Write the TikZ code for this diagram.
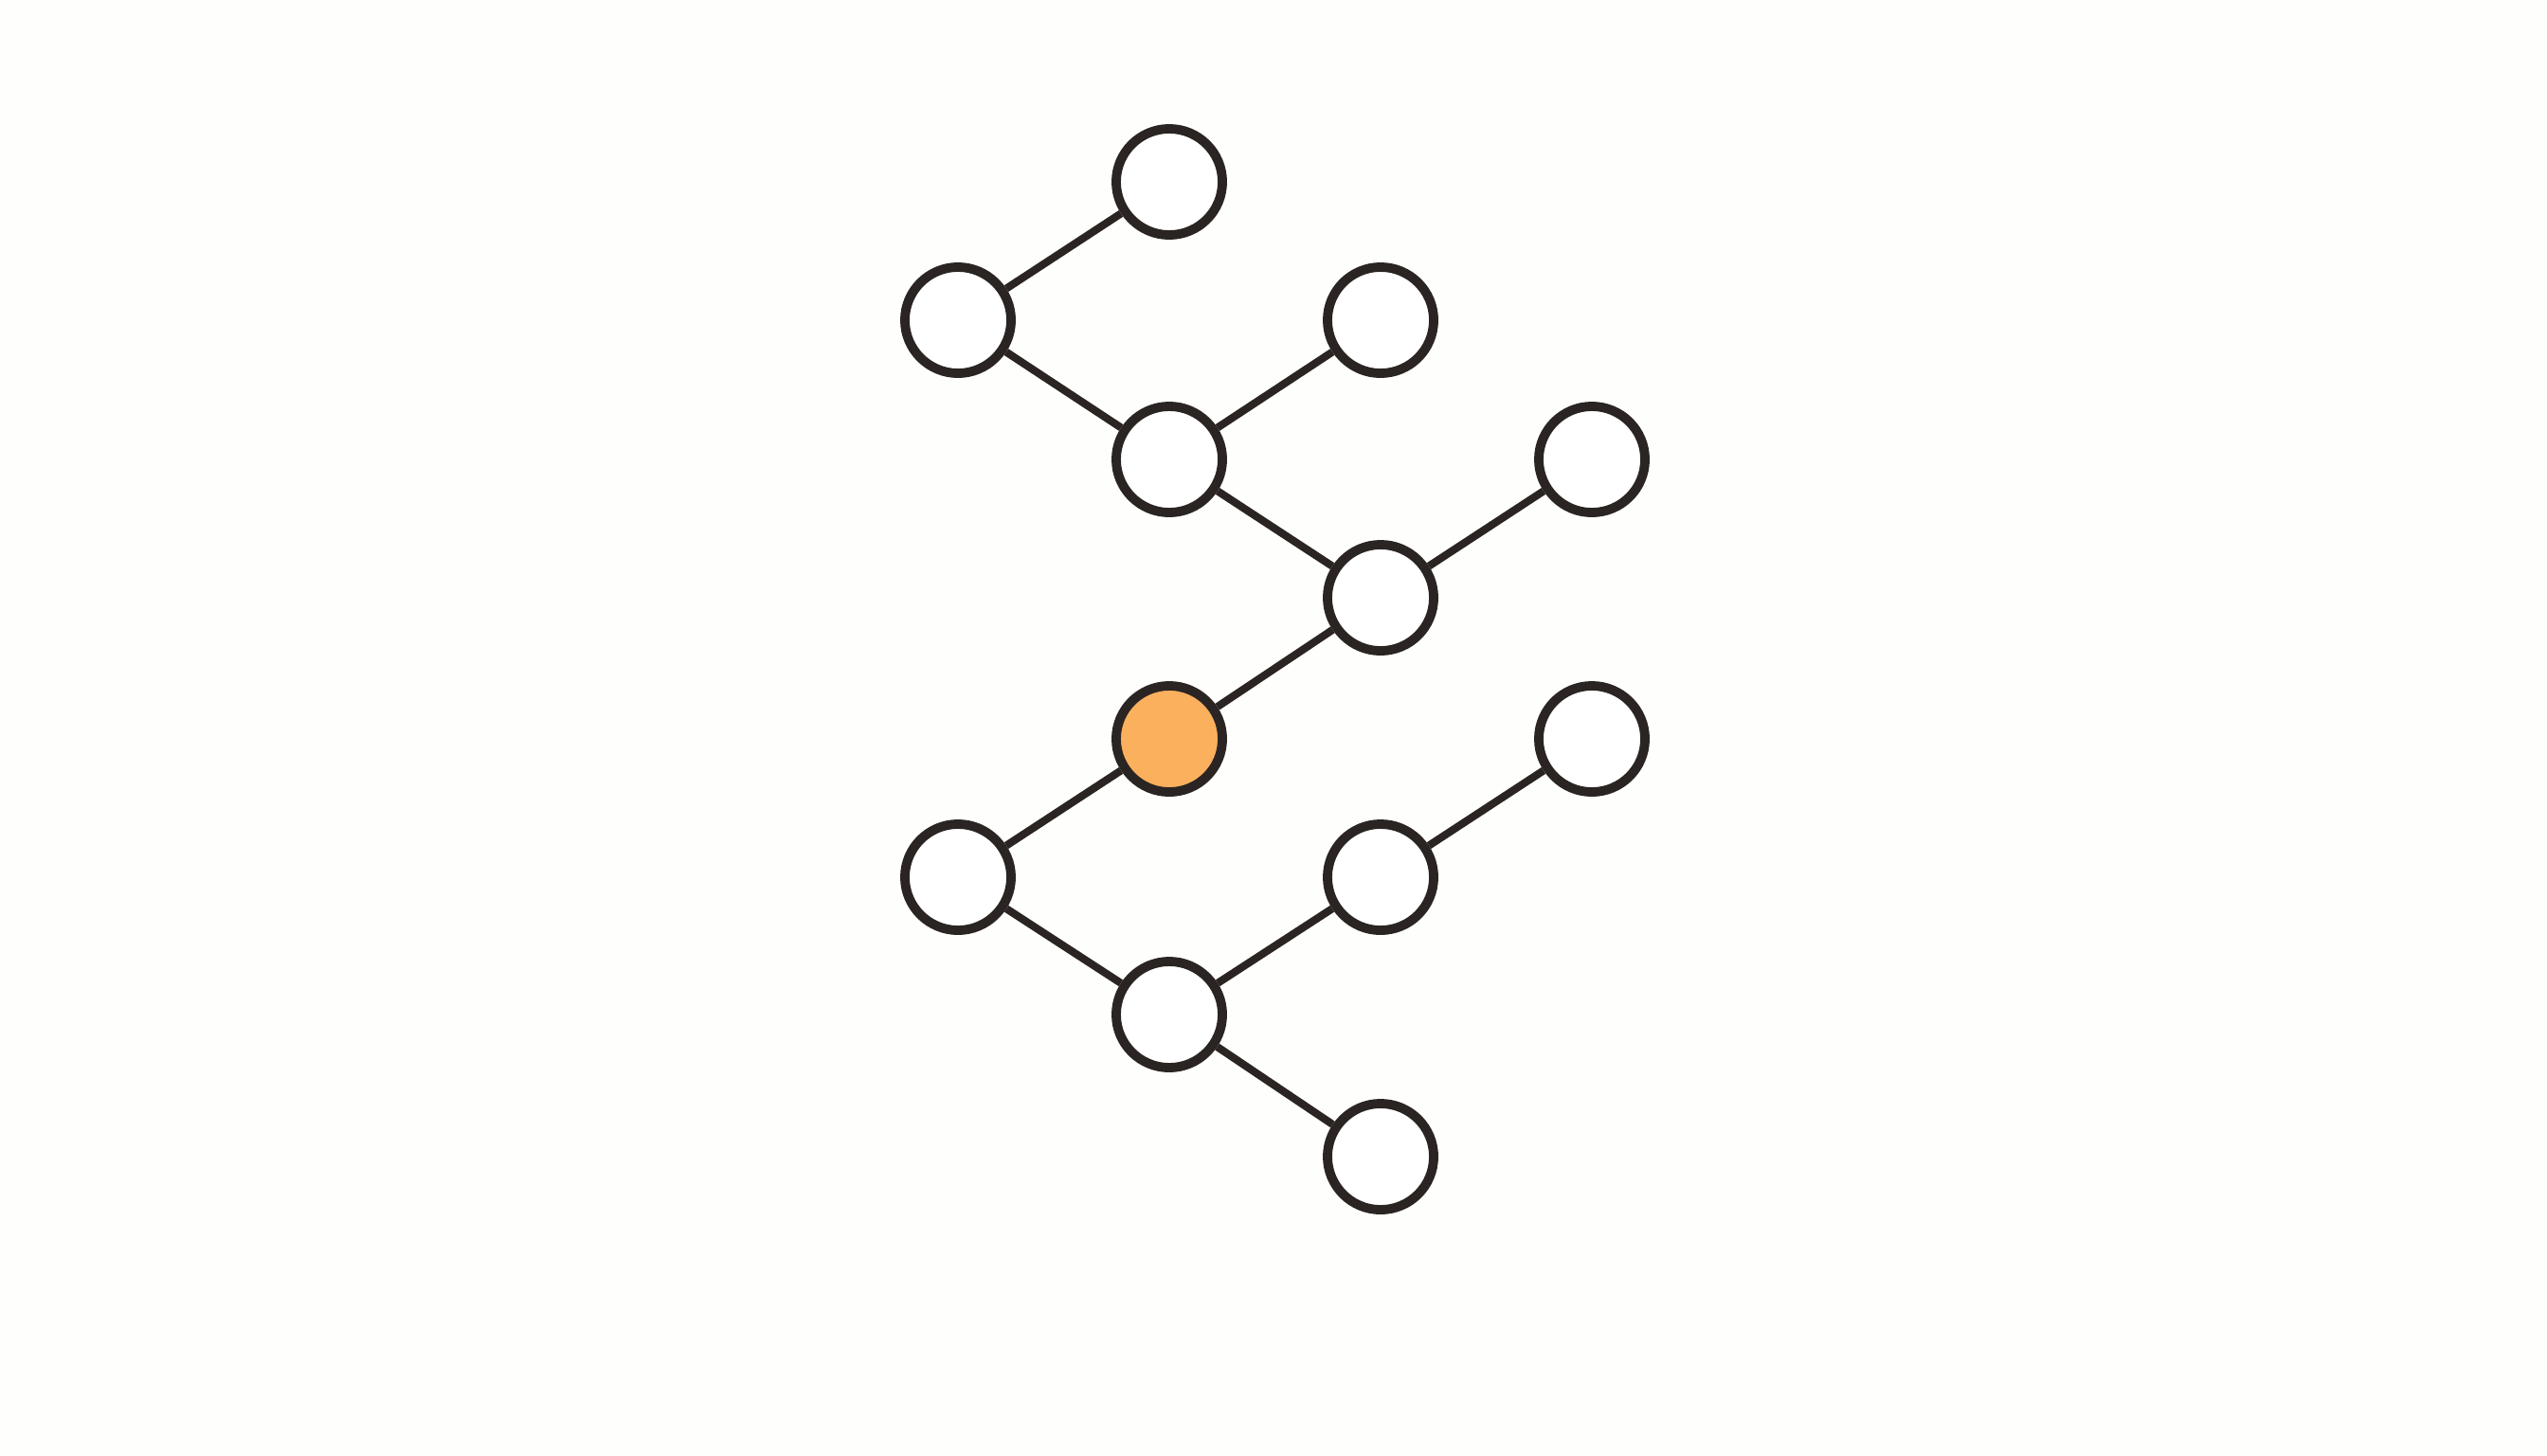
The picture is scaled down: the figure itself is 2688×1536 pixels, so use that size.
\documentclass[tikz,border=0pt]{standalone}
\usepackage{tikz}
\usepackage{xcolor}
\usetikzlibrary{positioning}
\definecolor{inkdark}{HTML}{2A2522}
\definecolor{leaforange}{HTML}{FBB05D}
\definecolor{paper}{HTML}{FEFEFC}

\begin{document}
\begin{tikzpicture}[x=0.01cm, y=-0.01cm,
        vert/.style={circle, draw=inkdark, line width=2.8pt, fill=white, minimum size=1.12cm, inner sep=0pt},
        hilite/.style={vert, fill=leaforange}]
                        \fill[paper] (0, 0) rectangle (2688, 1536);

                        \node[vert] (a) at (1234, 192) {};
                        \node[vert] (b) at (1011, 338) {};
                        \node[vert] (c) at (1457, 338) {};
                        \node[vert] (d) at (1234, 485) {};
                        \node[vert] (e) at (1680, 485) {};
                        \node[vert] (f) at (1457, 631) {};
                        \node[hilite] (g) at (1234, 780) {};
                        \node[vert] (h) at (1680, 780) {};
                        \node[vert] (i) at (1011, 926) {};
                        \node[vert] (j) at (1457, 926) {};
                        \node[vert] (k) at (1234, 1071) {};
                        \node[vert] (l) at (1457, 1221) {};

                        \draw[inkdark, line width=2.3pt]
                        (a) -- (b)
                        (b) -- (d)
                        (d) -- (c)
                        (d) -- (f)
                        (f) -- (e)
                        (f) -- (g)
                        (g) -- (i)
                        (i) -- (k)
                        (k) -- (j)
                        (j) -- (h)
                        (k) -- (l);
                    \end{tikzpicture}
\end{document}
